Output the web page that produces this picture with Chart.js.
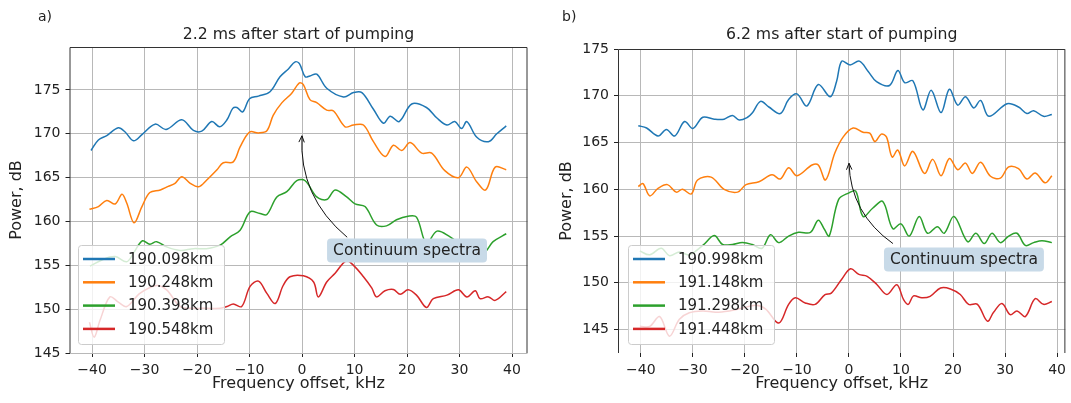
<!DOCTYPE html>
<html lang="en">
<head>
<meta charset="UTF-8">
<title>Continuum spectra</title>
<script src="https://cdn.jsdelivr.net/npm/chart.js"></script>
<style>
  body { margin: 0; background: #fff; }
  canvas { position: absolute; top: 0; }
</style>
</head>
<body>
<canvas id="chartA" width="540" height="403" style="left:0"></canvas>
<canvas id="chartB" width="531" height="403" style="left:540px"></canvas>

<script>
// tick labels
const xTicks = [-40, -30, -20, -10, 0, 10, 20, 30, 40];
const yTicks = [145, 150, 155, 160, 165, 170, 175];

// legend names
const namesA = ['190.098km', '190.248km', '190.398km', '190.548km'];
const namesB = ['190.998km', '191.148km', '191.298km', '191.448km'];
const colors = ['#1f77b4', '#ff7f0e', '#2ca02c', '#d62728'];

// a) 2.2 ms - [frequency offset kHz, power dB]
const a1 = [[-40.2,168.1],[-38.8,169.3],[-37.2,169.8],[-35,170.7],[-33.7,170.2],[-32.1,169.2],[-30.5,169.9],[-28,171.1],[-25.9,170.5],[-22.9,171.6],[-20.7,170.4],[-19.1,170.3],[-17.2,171.4],[-15.7,170.8],[-14.3,171.6],[-13.2,172.9],[-12.4,173.0],[-11.3,172.5],[-10,174.0],[-8.3,174.3],[-6.1,174.8],[-4.2,176.5],[-2.6,177.4],[-1.3,178.2],[-0.5,178.0],[0.6,176.5],[1.5,176.6],[2.8,176.8],[4.7,175.2],[7.9,174.2],[9.8,174.7],[11.4,174.7],[13.6,172.8],[15.5,171.2],[16.8,172.0],[18.5,171.4],[20.9,173.4],[23.7,173.0],[25.7,171.8],[27.6,171.0],[29.1,171.4],[30.4,170.6],[31.4,171.4],[33.3,169.6],[35.5,169.1],[37.1,170.0],[38.9,170.9]];
const a2 = [[-40.5,161.4],[-38.8,161.7],[-37.2,162.4],[-35.6,162.0],[-34.3,163.1],[-33.4,162.1],[-32,159.85],[-30.5,161.7],[-29,163.3],[-27,163.6],[-25.5,164.0],[-24.2,164.35],[-22.9,165.1],[-21.3,164.35],[-19.7,163.96],[-18.2,164.7],[-16.2,165.9],[-15,166.7],[-13.1,166.8],[-11.8,168.5],[-10,170.2],[-8.3,170.1],[-6.7,170.35],[-5.5,172.1],[-3.9,173.5],[-2,174.6],[-0.5,175.8],[0.25,175.6],[1.5,173.9],[2.8,173.55],[4.7,172.7],[6,172.6],[8.2,170.8],[9.8,171.0],[11.7,171.0],[13.6,169.1],[15.8,167.4],[17.4,168.7],[19,168.1],[20.6,169.0],[22.8,167.8],[24.7,167.8],[27.2,165.8],[29.8,165.0],[31.4,166.2],[33.3,164.5],[35,163.6],[36.8,166.2],[38.9,165.9]];
const a3 = [[-40.4,154.9],[-37.8,155.7],[-35.6,156.0],[-33.4,155.4],[-32,156.5],[-30.4,157.8],[-29,157.4],[-27.7,157.7],[-25.8,157.1],[-23.2,156.7],[-20.7,156.9],[-18.2,156.9],[-15.6,157.3],[-13.7,158.25],[-11.8,159.0],[-9.9,161.1],[-8,160.9],[-6.7,160.8],[-4.8,162.8],[-2.9,163.4],[-1,164.65],[0.6,164.65],[2.8,162.8],[4.7,162.5],[6.3,163.6],[8.5,162.8],[10.1,162.0],[12,161.7],[14.2,159.6],[16.1,159.5],[18,160.2],[20.2,160.6],[21.8,160.5],[23.7,157.5],[25.7,158.9],[28.2,158.25],[30.1,157.5],[32,157.5],[34.5,156.4],[36.4,157.7],[38.9,158.6]];
const a4 = [[-40.5,148.5],[-39.6,146.8],[-38.5,148.7],[-36.6,151.4],[-35,150.8],[-33.4,150.3],[-30.9,151.8],[-27.7,152.7],[-25.8,152.2],[-23.2,150.3],[-20.7,150.1],[-18.2,150.1],[-15.6,150.1],[-14.3,150.3],[-13.1,150.6],[-11.5,150.3],[-9.9,152.6],[-8.3,153.2],[-6.7,151.8],[-5.1,150.65],[-3.6,152.7],[-2.3,153.7],[0.25,153.8],[2.2,153.1],[3.1,151.4],[4.7,153.1],[6.3,154.1],[8.4,155.5],[9.8,155.0],[11.7,153.7],[13.3,152.4],[14.2,151.4],[15.8,152.1],[17.4,152.25],[18.7,151.7],[20.2,152.2],[21.8,151.6],[23.7,150.2],[25,151.2],[27.6,151.6],[29.8,152.2],[31.4,151.4],[33,152.1],[33.9,151.2],[35.5,151.4],[36.8,151.0],[38.9,152.0]];

// b) 6.2 ms
const b1 = [[-40.5,166.8],[-38.9,166.55],[-36.7,165.7],[-35.1,166.4],[-33.5,165.7],[-31.6,167.25],[-30,166.5],[-28.1,167.7],[-25.9,167.5],[-24,167.5],[-22.4,167.9],[-21.1,167.4],[-19.5,167.7],[-18.6,168.15],[-17,169.4],[-15.4,168.8],[-13.2,168.1],[-11.6,169.6],[-10,170.2],[-8.1,168.9],[-5.9,171.2],[-3.6,169.9],[-2.4,171.5],[-1.4,173.7],[0.2,173.3],[2.0,173.7],[3.7,172.6],[5.3,171.5],[7.8,171.1],[9.4,172.7],[10.7,171.4],[12.3,171.6],[14.2,168.5],[15.8,170.6],[17.7,168.2],[19.3,170.7],[20.9,169.0],[22.4,169.9],[24,168.7],[25.3,169.5],[26.9,167.8],[30.4,169.15],[32.6,168.8],[34.2,168.1],[35.5,168.4],[37.4,167.8],[39,168.0]];
const b2 = [[-40.5,160.3],[-39.6,160.6],[-38.3,159.3],[-36.7,160.1],[-34.9,160.5],[-33.2,159.7],[-32,160.0],[-30.3,159.5],[-29.1,161.0],[-26.5,161.3],[-24,160.0],[-21.4,159.7],[-19.8,160.5],[-17.3,160.8],[-14.8,161.55],[-13.2,161.1],[-11.6,162.3],[-10,161.45],[-7.1,162.6],[-5.9,162.6],[-4.5,161.0],[-2.7,163.9],[-1.1,165.6],[0.8,166.55],[2.7,166.1],[4.0,166.0],[5.0,165.1],[6.2,165.9],[7.2,165.6],[8.3,163.45],[9.4,164.2],[10.7,162.5],[12.3,164.05],[14.5,161.7],[16.1,163.2],[17.7,161.45],[19.3,163.3],[20.9,162.1],[22.4,162.8],[23.7,161.7],[25.3,162.9],[27.2,161.4],[29.1,161.2],[30.7,162.4],[32.6,162.2],[34.2,161.1],[35.8,161.75],[37.7,160.7],[39,161.45]];
const b3 = [[-40.2,153.4],[-38.3,153.0],[-36.1,153.7],[-34.5,152.9],[-32.6,153.3],[-30.7,153.0],[-28.1,154.0],[-25.9,155.05],[-24.3,154.1],[-22.4,154.1],[-20.5,154.3],[-18.6,154.1],[-16.7,153.7],[-15.1,155.15],[-13.5,154.3],[-11.6,155.0],[-9.7,155.4],[-7.4,155.4],[-5.9,156.7],[-4.7,155.7],[-3.8,155.0],[-2.0,158.9],[-0.1,159.6],[1.3,159.8],[2.7,157.1],[4.6,158.0],[6.5,158.7],[8.4,155.8],[10.0,156.3],[11.6,155.0],[13.5,157.1],[15.1,155.3],[17.0,156.0],[18.3,155.3],[20.2,157.1],[22.8,154.4],[24.4,155.3],[26.0,154.2],[27.5,155.3],[29.1,154.3],[30.7,155.0],[32.3,155.3],[33.9,154.0],[35.5,154.3],[37.1,154.5],[39,154.3]];
const b4 = [[-40.2,145.35],[-38.3,145.35],[-36.4,146.4],[-34.5,144.3],[-32.6,146.1],[-30.7,146.8],[-28.1,147.0],[-25.6,146.85],[-23.0,147.0],[-20.5,147.3],[-17.9,147.6],[-16.0,147.2],[-13.5,145.7],[-11.6,147.7],[-10.3,148.4],[-8.4,147.85],[-6.5,147.7],[-4.6,148.75],[-3.4,148.9],[-1.5,150.3],[0.3,151.5],[1.9,150.9],[3.5,150.7],[5.4,149.8],[7.3,148.75],[9.2,149.8],[10.5,148.2],[11.4,147.7],[12.4,148.6],[14.0,148.4],[15.6,148.55],[17.6,149.45],[19.5,149.35],[21.4,148.75],[23.0,147.7],[24.7,147.7],[26.6,145.9],[27.8,146.85],[29.4,147.8],[31.0,146.6],[32.3,147.0],[33.9,146.4],[35.8,148.3],[37.4,147.7],[39.0,148.0]];

const FONT = '"DejaVu Sans", sans-serif';
const INK = '#222';

// titles, legend, arrow and spines drawn on top of the chart
const decor = {
  id: 'decor',
  afterDraw(chart, args, o) {
    const { ctx, chartArea: a, scales: { x, y } } = chart;
    ctx.save();

    // spines (left, top, right)
    ctx.strokeStyle = '#333';
    ctx.lineWidth = 1;
    ctx.beginPath();
    ctx.moveTo(a.left + 0.5, a.bottom);
    ctx.lineTo(a.left + 0.5, a.top + 0.5);
    ctx.lineTo(a.right - 0.5, a.top + 0.5);
    ctx.lineTo(a.right - 0.5, a.bottom);
    ctx.stroke();

    ctx.fillStyle = INK;
    ctx.textBaseline = 'middle';

    // panel letter and title
    ctx.font = '14px ' + FONT;
    ctx.textAlign = 'left';
    ctx.fillText(o.letter, o.letterX, 17);
    ctx.font = '15.7px ' + FONT;
    ctx.textAlign = 'center';
    ctx.fillText(o.title, (a.left + a.right) / 2, 35);

    // axis titles
    ctx.font = '16px ' + FONT;
    ctx.fillText('Frequency offset, kHz', (a.left + a.right) / 2, 384);
    ctx.save();
    ctx.translate(o.ylabelX, (a.top + a.bottom) / 2);
    ctx.rotate(-Math.PI / 2);
    ctx.fillText('Power, dB', 0, 0);
    ctx.restore();

    // annotation box
    const label = 'Continuum spectra';
    ctx.font = '15.5px ' + FONT;
    const tw = ctx.measureText(label).width;
    const cx = x.getPixelForValue(o.textAt[0]);
    const cy = y.getPixelForValue(o.textAt[1]);
    const bw = tw + 12, bh = 24;
    ctx.fillStyle = '#c8dae8';
    ctx.beginPath();
    ctx.roundRect(cx - bw / 2, cy - bh / 2, bw, bh, 4);
    ctx.fill();
    ctx.fillStyle = INK;
    ctx.fillText(label, cx, cy + 1);

    // curved arrow
    const tx = x.getPixelForValue(o.tail[0]), ty = y.getPixelForValue(o.tail[1]);
    let hx = x.getPixelForValue(o.head[0]), hy = y.getPixelForValue(o.head[1]);
    const mx = (tx + hx) / 2, my = (ty + hy) / 2;
    const dx = hx - tx, dy = hy - ty;
    const qx = mx + 0.25 * dy, qy = my - 0.25 * dx;
    const ex = hx - qx, ey = hy - qy, el = Math.hypot(ex, ey);
    hx -= 2 * ex / el; hy -= 2 * ey / el;
    ctx.strokeStyle = '#111';
    ctx.lineWidth = 1;
    ctx.beginPath();
    ctx.moveTo(tx, ty);
    ctx.quadraticCurveTo(qx, qy, hx, hy);
    ctx.stroke();
    const ang = Math.atan2(ey, ex);
    ctx.beginPath();
    ctx.moveTo(hx - 7 * Math.cos(ang - 0.4), hy - 7 * Math.sin(ang - 0.4));
    ctx.lineTo(hx, hy);
    ctx.lineTo(hx - 7 * Math.cos(ang + 0.4), hy - 7 * Math.sin(ang + 0.4));
    ctx.stroke();

    // legend
    ctx.font = '15px ' + FONT;
    const lx = a.left + o.legendDx, lw = 146, lh = 99, ly = a.bottom - 9 - lh;
    ctx.fillStyle = 'rgba(255,255,255,0.8)';
    ctx.strokeStyle = '#cccccc';
    ctx.beginPath();
    ctx.roundRect(lx + 0.5, ly + 0.5, lw, lh, 3);
    ctx.fill();
    ctx.stroke();
    ctx.textAlign = 'left';
    o.names.forEach((n, i) => {
      const ry = ly + 14 + i * 23.3;
      ctx.strokeStyle = colors[i];
      ctx.lineWidth = 2.5;
      ctx.beginPath();
      ctx.moveTo(lx + 5, ry);
      ctx.lineTo(lx + 37, ry);
      ctx.stroke();
      ctx.fillStyle = INK;
      ctx.fillText(n, lx + 50, ry + 1);
    });

    ctx.restore();
  }
};

function makeChart(id, series, names, xr, yr, pad, yWidth, deco) {
  return new Chart(document.getElementById(id), {
    type: 'line',
    data: {
      datasets: series.map((s, i) => ({
        label: names[i],
        data: s.map(p => ({ x: p[0], y: p[1] })),
        borderColor: colors[i],
        borderWidth: 1.5,
        pointRadius: 0,
        tension: 0.35,
        fill: false
      }))
    },
    options: {
      responsive: false,
      animation: false,
      layout: { padding: pad },
      plugins: {
        legend: { display: false },
        tooltip: { enabled: false },
        decor: Object.assign({ names }, deco)
      },
      scales: {
        x: {
          type: 'linear',
          min: xr[0], max: xr[1],
          afterBuildTicks: s => { s.ticks = xTicks.map(v => ({ value: v })); },
          afterFit: s => { s.height = 50; },
          grid: { color: '#b8b8b8', lineWidth: 1, tickLength: 4, tickColor: '#222' },
          border: { display: false },
          ticks: {
            color: INK, font: { family: FONT, size: 14 }, padding: 5,
            maxRotation: 0, autoSkip: false,
            callback: v => v < 0 ? '\u2212' + (-v) : String(v)
          }
        },
        y: {
          min: yr[0], max: yr[1],
          afterBuildTicks: s => { s.ticks = yTicks.map(v => ({ value: v })); },
          afterFit: s => { s.width = yWidth; },
          grid: { color: '#b8b8b8', lineWidth: 1, tickLength: 4, tickColor: '#222' },
          border: { display: false },
          ticks: { color: INK, font: { family: FONT, size: 14 }, padding: 5 }
        }
      }
    },
    plugins: [decor]
  });
}

makeChart('chartA', [a1, a2, a3, a4], namesA, [-44.3, 42.95], [145, 179.9],
  { left: 0, right: 12.5, top: 47, bottom: 0 }, 69.5,
  { title: '2.2 ms after start of pumping', letter: 'a)', letterX: 38, ylabelX: 17,
    textAt: [20, 156.7], tail: [8.6, 158.2], head: [0, 170], legendDx: 8.5 });

makeChart('chartB', [b1, b2, b3, b4], namesB, [-44.4, 41.6], [142.5, 175],
  { left: 0, right: 2, top: 49, bottom: 0 }, 78,
  { title: '6.2 ms after start of pumping', letter: 'b)', letterX: 22, ylabelX: 27,
    textAt: [22.1, 152.5], tail: [8.45, 154.2], head: [0, 163], legendDx: 10 });
</script>
</body>
</html>
